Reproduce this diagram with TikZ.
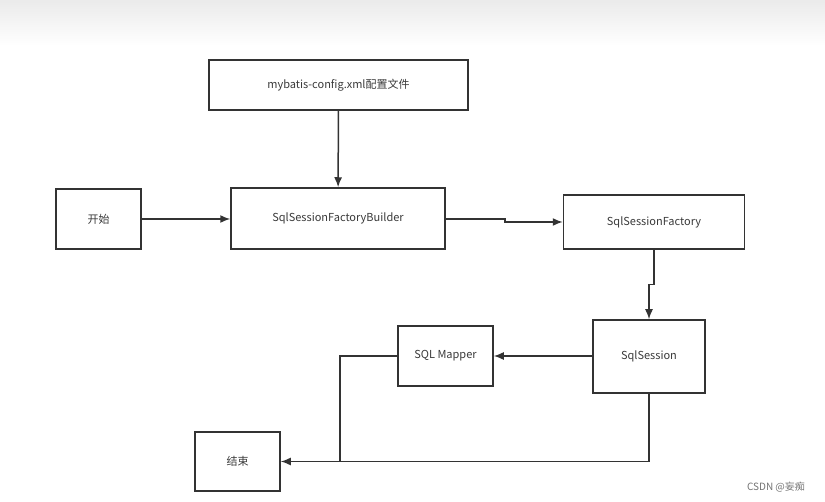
\documentclass[tikz,border=0pt]{standalone}
\usepackage{fontspec}
\setmainfont{Noto Sans CJK SC}
\usepackage{tikz}
\usetikzlibrary{arrows.meta,calc}
\definecolor{linegray}{HTML}{333333}
\definecolor{textgray}{HTML}{3A3A3A}
\tikzset{
  box/.style={draw=linegray,line width=1.5pt,rectangle,inner sep=0pt,text=textgray,
    font=\fontsize{11}{13}\selectfont},
  arr/.style={draw=linegray,line width=1.5pt,-{Latex[length=10pt,width=8pt]}},
  link/.style={draw=linegray,line width=1.5pt}
}
\begin{document}
\begin{tikzpicture}[x=1pt,y=-1pt]
\fill[white] (0,0) rectangle (825,502);
\useasboundingbox (0,0) rectangle (825,502);
\shade[top color=black!8,bottom color=white] (0,0) rectangle (825,46);
\node[box,minimum width=259pt,minimum height=50pt] (cfg) at (338.5,85) {mybatis-config.xml配置文件};
\node[box,minimum width=85pt,minimum height=60pt] (start) at (98.5,219) {开始};
\node[box,minimum width=214pt,minimum height=61pt] (bld) at (338,218.5) {SqlSessionFactoryBuilder};
\node[box,minimum width=181pt,minimum height=54pt] (fac) at (654,222) {SqlSessionFactory};
\node[box,minimum width=112pt,minimum height=73pt] (ses) at (649,356.5) {SqlSession};
\node[box,minimum width=95pt,minimum height=60pt] (map) at (445.5,356) {SQL Mapper};
\node[box,minimum width=85pt,minimum height=59pt] (end) at (237.5,461.5) {结束};
\node[text=black!55,font=\fontsize{10}{12}\selectfont] (mark) at (776,487) {CSDN @妄痴};
\draw[arr] (cfg) -- (bld);
\draw[arr] (start) -- (bld.west |- start);
\draw[arr] (bld.east |- 0,219) -- (505,219) |- (fac.west);
\draw[arr] (fac.south) -- ++(0,35) -| (ses.north);
\draw[arr] (ses.west |- map) -- (map.east);
\draw[link] (map.west) -- (340,356) -- (340,461.5);
\draw[arr] (ses.south) |- (end.east);
\end{tikzpicture}
\end{document}
